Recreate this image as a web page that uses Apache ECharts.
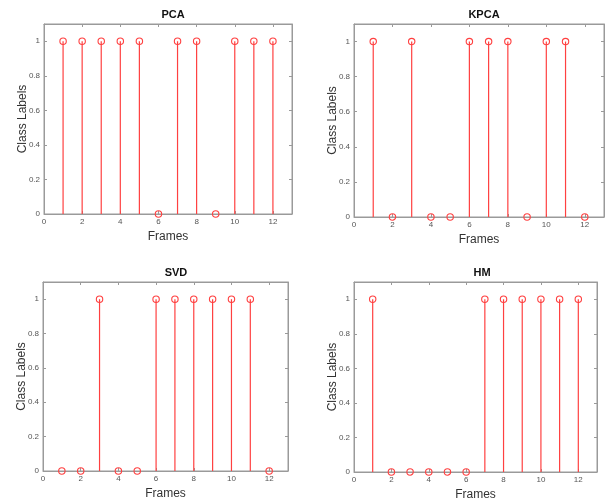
<!DOCTYPE html>
<html>
<head>
<meta charset="utf-8">
<title>Stem plots</title>
<script src="https://cdn.jsdelivr.net/npm/echarts@6/dist/echarts.min.js"></script>
</head>
<body style="margin:0;background:#fff">
<div id="container" style="width:605px;height:503px"></div>
<script>
    // 数据：每个子图12帧的类别标签
    var frames = [1, 2, 3, 4, 5, 6, 7, 8, 9, 10, 11, 12];
    var titles = ['PCA', 'KPCA', 'SVD', 'HM'];
    var pcaLabels  = [1, 1, 1, 1, 1, 0, 1, 1, 0, 1, 1, 1];
    var kpcaLabels = [1, 0, 1, 0, 0, 1, 1, 1, 0, 1, 1, 0];
    var svdLabels  = [0, 0, 1, 0, 0, 1, 1, 1, 1, 1, 1, 0];
    var hmLabels   = [1, 0, 0, 0, 0, 0, 1, 1, 1, 1, 1, 1];
    var allLabels = [pcaLabels, kpcaLabels, svdLabels, hmLabels];

    // 子图位置
    var grids = [
        {left: 44, top: 24, width: 248, height: 190},
        {left: 354, top: 24, width: 250, height: 193},
        {left: 43, top: 282, width: 245, height: 189},
        {left: 354, top: 282, width: 243, height: 190}
    ];
    var titlePos = [[168, 4], [479, 4], [171, 262], [477, 262]];

    var red = '#ff4040';
    var axisColor = '#9a9a9a';
    var labelColor = '#555';

    var myChart = echarts.init(document.getElementById('container'));

    var option = {
        backgroundColor: '#fff',
        animation: false,
        title: [],
        grid: [],
        xAxis: [],
        yAxis: [],
        series: []
    };

    function hideOdd(step, max) {
        return function (v) {
            if (v > max + 1e-9) return '';
            var r = Math.round(v / step);
            if (Math.abs(r * step - v) > 1e-6) return '';
            return String(Math.round(v * 10) / 10);
        };
    }

    for (var i = 0; i < 4; i++) {
        var g = grids[i];
        option.grid.push({
            left: g.left, top: g.top, width: g.width, height: g.height,
            show: true, borderColor: axisColor, borderWidth: 1, backgroundColor: '#fff'
        });
        option.title.push({
            text: titles[i],
            left: titlePos[i][0], top: titlePos[i][1],
            textAlign: 'center',
            textStyle: {fontFamily: 'Liberation Sans', fontWeight: 'bold', fontSize: 11, color: '#111'}
        });
        // 下方x轴
        option.xAxis.push({
            type: 'value', gridIndex: i, min: 0, max: 13, interval: 2,
            name: 'Frames', nameLocation: 'middle', nameGap: 17,
            nameTextStyle: {fontFamily: 'Liberation Sans', fontSize: 12, color: '#333'},
            axisLine: {show: true, onZero: false, lineStyle: {color: axisColor}},
            axisTick: {show: true, inside: true, length: 3, lineStyle: {color: axisColor}},
            axisLabel: {fontFamily: 'Liberation Sans', fontSize: 8, color: labelColor, margin: 4,
                formatter: hideOdd(2, 12), showMaxLabel: false},
            splitLine: {show: false}
        });
        // 上方x轴（只画刻度）
        option.xAxis.push({
            type: 'value', gridIndex: i, min: 0, max: 13, interval: 2, position: 'top',
            axisLine: {show: true, onZero: false, lineStyle: {color: axisColor}},
            axisTick: {show: true, inside: true, length: 3, lineStyle: {color: axisColor}},
            axisLabel: {show: false},
            splitLine: {show: false}
        });
        // 左侧y轴
        option.yAxis.push({
            type: 'value', gridIndex: i, min: 0, max: 1.1, interval: 0.2,
            name: 'Class Labels', nameLocation: 'middle', nameGap: 15.5, nameMoveOverlap: false,
            nameTextStyle: {fontFamily: 'Liberation Sans', fontSize: 12, color: '#333'},
            axisLine: {show: true, onZero: false, lineStyle: {color: axisColor}},
            axisTick: {show: true, inside: true, length: 3, lineStyle: {color: axisColor}},
            axisLabel: {fontFamily: 'Liberation Sans', fontSize: 8, color: labelColor, margin: 4,
                formatter: hideOdd(0.2, 1), showMaxLabel: false},
            splitLine: {show: false}
        });
        // 右侧y轴（只画刻度）
        option.yAxis.push({
            type: 'value', gridIndex: i, min: 0, max: 1.1, interval: 0.2, position: 'right',
            axisLine: {show: true, onZero: false, lineStyle: {color: axisColor}},
            axisTick: {show: true, inside: true, length: 3, lineStyle: {color: axisColor}},
            axisLabel: {show: false},
            splitLine: {show: false}
        });

        var data = [];
        for (var j = 0; j < frames.length; j++) {
            data.push([frames[j], allLabels[i][j]]);
        }
        // 茎叶图：竖线 + 空心圆
        option.series.push({
            type: 'custom',
            xAxisIndex: i * 2,
            yAxisIndex: i * 2,
            data: data,
            renderItem: function (params, api) {
                var x = api.value(0), y = api.value(1);
                var base = api.coord([x, 0]);
                var top = api.coord([x, y]);
                var children = [];
                if (y !== 0) {
                    children.push({
                        type: 'line',
                        shape: {x1: base[0], y1: base[1], x2: top[0], y2: top[1]},
                        style: {stroke: red, lineWidth: 1.2}
                    });
                }
                children.push({
                    type: 'circle',
                    shape: {cx: top[0], cy: top[1], r: 3.2},
                    style: {stroke: red, fill: 'none', lineWidth: 1.1}
                });
                return {type: 'group', children: children};
            }
        });
    }

    myChart.setOption(option);
</script>
</body>
</html>
